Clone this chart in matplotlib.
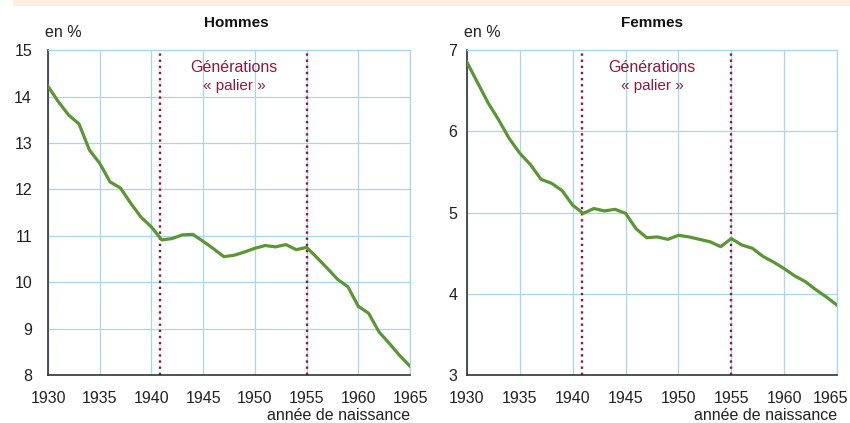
import matplotlib.pyplot as plt
from matplotlib.patches import Rectangle
from matplotlib.transforms import ScaledTranslation

plt.rcParams['font.family'] = ['Liberation Sans', 'DejaVu Sans']

## yearly values
annees = list(range(1930, 1966))

hommes = [14.22, 13.89, 13.60, 13.41, 12.85, 12.56, 12.16, 12.03, 11.70, 11.40,
          11.19, 10.91, 10.94, 11.02, 11.03, 10.88, 10.72, 10.55, 10.58, 10.65,
          10.73, 10.79, 10.76, 10.81, 10.70, 10.75, 10.53, 10.30, 10.06, 9.90,
          9.48, 9.33, 8.93, 8.68, 8.42, 8.19]

femmes = [6.85, 6.60, 6.35, 6.14, 5.91, 5.73, 5.59, 5.41, 5.36, 5.27,
          5.09, 4.99, 5.05, 5.02, 5.04, 4.99, 4.80, 4.69, 4.70, 4.67,
          4.72, 4.70, 4.67, 4.64, 4.58, 4.68, 4.60, 4.56, 4.46, 4.39,
          4.31, 4.22, 4.15, 4.05, 3.96, 3.86]

bornes_palier = [1940.85, 1955]
x_ticks = [1930, 1935, 1940, 1945, 1950, 1955, 1960, 1965]
y_ticks_h = [8, 9, 10, 11, 12, 13, 14, 15]
y_ticks_f = [3, 4, 5, 6, 7]

vert = "#5a9632"
bordeaux = "#8c1a3e"
bleu = "#a9d5f2"

fig = plt.figure(figsize=(8.5, 4.23), dpi=100)

## the peach band at the very top
fig.patches.append(Rectangle((13 / 850, 1 - 5 / 423), 1, 5 / 423,
                             transform=fig.transFigure, color="#fdeee2", zorder=0))

ax_h = fig.add_axes([48 / 850, 0.1135, 362 / 850, 0.768])
ax_f = fig.add_axes([467 / 850, 0.1135, 370 / 850, 0.768])

panels = [
    (ax_h, hommes, y_ticks_h, "Hommes", 11.5, 1948, 0.52),
    (ax_f, femmes, y_ticks_f, "Femmes", 7, 1947.5, 0.5),
]

for ax, valeurs, yt, titre, ypad, xtxt, xtitre in panels:
    ax.plot(annees, valeurs, color=vert, linewidth=2.3, zorder=3,
            solid_joinstyle="round")
    for b in bornes_palier:
        ax.axvline(b, color=bordeaux, linewidth=1.7, linestyle=(0, (1, 1.6)), zorder=2)

    ax.set_xlim(1930, 1965)
    ax.set_ylim(yt[0], yt[-1])
    ax.set_xticks(x_ticks)
    ax.set_yticks(yt)
    ax.grid(True, color=bleu, linewidth=0.9, zorder=0)
    ax.set_axisbelow(True)

    for s in ["top", "right"]:
        ax.spines[s].set_color(bleu)
        ax.spines[s].set_linewidth(0.9)
    for s in ["left", "bottom"]:
        ax.spines[s].set_color("#333333")
        ax.spines[s].set_linewidth(1.2)

    ax.tick_params(axis="x", length=0, pad=11.5, labelsize=11.5, labelcolor="#222222")
    ax.tick_params(axis="y", length=0, pad=ypad, labelsize=11.5, labelcolor="#222222")

    ax.text(xtitre, 1.07, titre, transform=ax.transAxes, ha="center", va="baseline",
            fontsize=11, fontweight="bold", color="#111111")
    ax.text(-0.008, 1.04, "en %", transform=ax.transAxes, ha="left", va="baseline",
            fontsize=11.5, color="#222222")
    ax.text(1.0, -0.138, "année de naissance", transform=ax.transAxes, ha="right",
            va="baseline", fontsize=11.5, color="#222222")

    trans = ax.get_xaxis_transform()
    ax.text(xtxt, 0.932, "Générations", transform=trans, ha="center", va="baseline",
            fontsize=11.5, color=bordeaux)
    ax.text(xtxt, 0.877, "« palier »", transform=trans, ha="center", va="baseline",
            fontsize=11, color=bordeaux)

## last year label on the right panel is nudged left so it stays inside the picture
fig.canvas.draw()
dernier = ax_f.get_xticklabels()[-1]
dernier.set_transform(dernier.get_transform() + ScaledTranslation(-7 / 100, 0, fig.dpi_scale_trans))

fig.savefig("out.png", dpi=100)
